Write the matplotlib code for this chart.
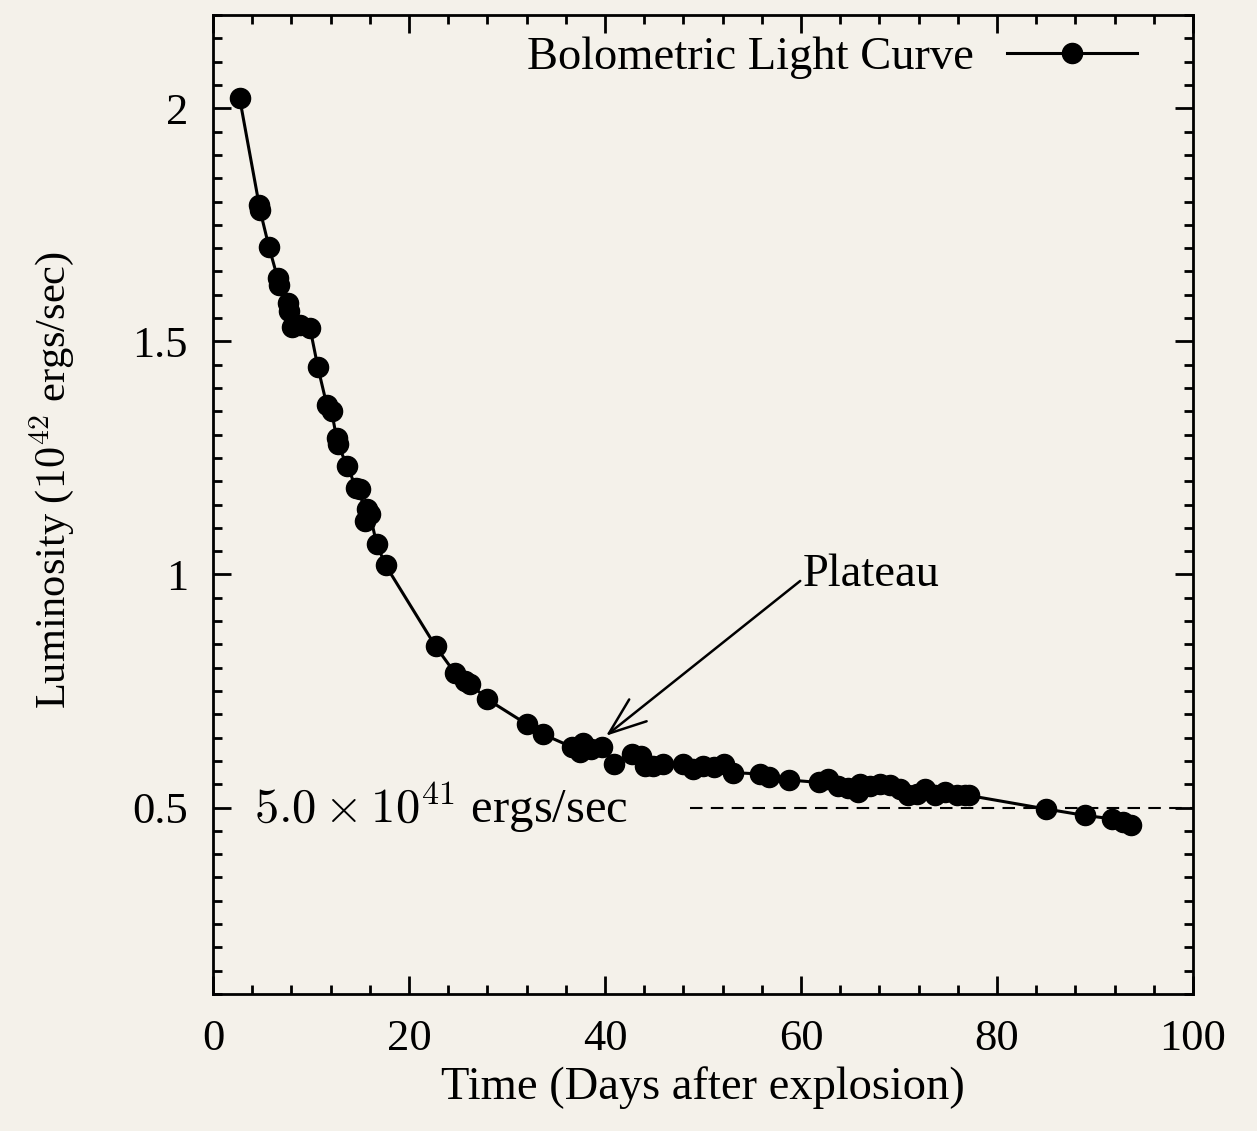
import numpy as np
import matplotlib
matplotlib.use("Agg")
import matplotlib.pyplot as plt
from matplotlib.ticker import MultipleLocator, FuncFormatter

## bolometric light curve (days after explosion, luminosity in 1e42 ergs/sec)
days = [2.7, 4.7, 4.8, 5.7, 6.6, 6.7, 7.6, 7.7, 8.1, 8.9, 9.9, 10.7, 11.6, 12.1,
        12.6, 12.7, 13.7, 14.6, 15.0, 15.5, 15.7, 16.0, 16.7, 17.6, 22.7, 24.7,
        25.7, 26.2, 28.0, 32.0, 33.7, 36.6, 37.4, 37.8, 38.6, 39.7, 40.9, 42.7,
        43.7, 44.1, 44.9, 45.9, 48.0, 49.0, 50.0, 51.1, 52.1, 53.1, 55.8, 56.7,
        58.8, 61.8, 62.8, 63.8, 64.8, 65.8, 66.0, 67.0, 68.1, 69.1, 70.1, 70.9,
        71.8, 72.7, 73.7, 74.7, 75.9, 76.7, 77.1, 85.0, 89.0, 91.7, 92.9, 93.7]
lum = [2.023, 1.793, 1.781, 1.703, 1.635, 1.620, 1.583, 1.566, 1.530, 1.535,
       1.528, 1.444, 1.364, 1.350, 1.293, 1.280, 1.233, 1.185, 1.184, 1.115,
       1.140, 1.130, 1.065, 1.020, 0.846, 0.788, 0.772, 0.766, 0.732, 0.679,
       0.657, 0.630, 0.620, 0.638, 0.626, 0.630, 0.594, 0.614, 0.611, 0.590,
       0.590, 0.593, 0.593, 0.582, 0.590, 0.586, 0.593, 0.575, 0.572, 0.565,
       0.559, 0.554, 0.561, 0.547, 0.543, 0.533, 0.551, 0.547, 0.551, 0.549,
       0.540, 0.526, 0.529, 0.540, 0.526, 0.533, 0.526, 0.528, 0.526, 0.497,
       0.483, 0.476, 0.469, 0.462]

plateau_level = 0.5
plateau_start = 48.7
arrow_tip = (40.1, 0.654)
arrow_text = (60.2, 1.0)

bg = "#f4f1ea"
plt.rcParams['font.family'] = ['Liberation Serif', 'DejaVu Serif']
plt.rcParams['mathtext.fontset'] = 'cm'

fig = plt.figure(figsize=(12.57, 11.31), dpi=100, facecolor=bg)
ax = fig.add_axes([0.1695, 0.1211, 0.7796, 0.8656])
ax.set_facecolor(bg)

# light curve
ax.plot(days, lum, color="black", lw=2.2, marker="o", markersize=14.5,
        label="Bolometric Light Curve")

# plateau level
ax.hlines(plateau_level, plateau_start, 100, colors="black", lw=1.5,
          linestyles=(0, (6, 4)))
ax.text(4.2, plateau_level, r"$5.0 \times 10^{41}$ ergs/sec", fontsize=35,
        va="center", ha="left")

ax.annotate("Plateau", xy=arrow_tip, xytext=arrow_text, fontsize=33.5,
            va="center", ha="left",
            arrowprops=dict(arrowstyle="->,head_length=0.8,head_width=0.3",
                            color="black", lw=1.8, shrinkA=0, shrinkB=0,
                            relpos=(0, 0.4)))

ax.set_xlim(0, 100)
ax.set_ylim(0.1, 2.2)
ax.xaxis.set_major_locator(MultipleLocator(20))
ax.xaxis.set_minor_locator(MultipleLocator(4))
ax.yaxis.set_major_locator(MultipleLocator(0.5))
ax.yaxis.set_minor_locator(MultipleLocator(0.05))
ax.yaxis.set_major_formatter(FuncFormatter(lambda v, p: "%g" % v))

ax.tick_params(which="both", direction="in", top=True, right=True, width=2,
               labelsize=32, pad=18)
ax.tick_params(which="major", length=13)
ax.tick_params(which="minor", length=6.5)
for s in ax.spines.values():
    s.set_linewidth(2)

ax.set_xlabel("Time (Days after explosion)", fontsize=33.5, labelpad=5)
ax.set_ylabel(r"Luminosity ($10^{42}$ ergs/sec)", fontsize=30.5)
ax.yaxis.set_label_coords(-0.14, 0.525)

ax.legend(loc="upper right", bbox_to_anchor=(0.943, 0.978), frameon=False,
          markerfirst=False, fontsize=33.5, handlelength=2.8, handletextpad=0.7,
          borderpad=0, borderaxespad=0)

plt.savefig("out.png", dpi=100, facecolor=bg)
